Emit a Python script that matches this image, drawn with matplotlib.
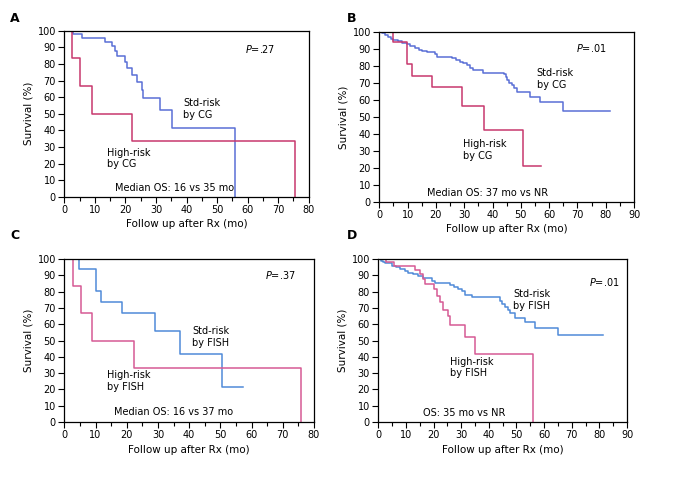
import numpy as np
import matplotlib.pyplot as plt

# Panel A - cytogenetics (CG), small cohort
a_std_t = [0, 2.8, 5.7, 13.4, 15.7, 16.6, 17.1, 19.9, 20.6, 22.3, 23.7, 25.5, 25.9, 31.4, 35.2, 56.0]
a_std_s = [100, 98, 95.8, 93.2, 90.6, 88, 84.5, 81.3, 77.5, 73.3, 69, 64.3, 59.3, 52, 41.6, 0]
a_high_t = [0, 2.6, 5.2, 8.9, 22.2, 75.6]
a_high_s = [100, 83.3, 66.7, 50, 33.3, 0]

# Panel B - cytogenetics (CG), large cohort
b_std_t = [0, 1, 2, 3, 4, 5, 6.5, 8, 9.7, 11, 12.5, 14, 15, 17, 19.7, 20.3, 25.6, 27, 28.5,
           29.7, 31, 32, 33, 36.5, 44, 44.6, 45.2, 46, 46.8, 47.6, 48.5, 53.2, 56.8, 64.8, 81.5]
b_std_s = [100, 99, 98, 97, 96, 95, 94.5, 93.5, 92.6, 91.5, 90.5, 89.5, 88.7, 88, 87.2, 85.3, 84.3,
           83.4, 82.4, 81.4, 80.5, 78.5, 77.3, 76, 75, 73.5, 71.6, 70, 68.7, 67, 64.4, 61.8, 58.9,
           53.4, 53.4]
b_high_t = [0, 4.7, 9.9, 11.4, 18.5, 29.1, 37.0, 50.6, 57.2]
b_high_s = [100, 94, 80.8, 74, 67.3, 56.2, 42.2, 21.2, 21.2]

# Panel C - FISH, small cohort
c_std_t = [0, 4.7, 10.0, 11.6, 18.6, 29.1, 37.2, 50.6, 57.4]
c_std_s = [100, 93.7, 80.3, 73.7, 67, 56, 42, 21.2, 21.2]
c_high_t = [0, 2.7, 5.4, 8.9, 22.2, 75.8]
c_high_s = [100, 83.3, 66.7, 50, 33.3, 0]

# Panel D - FISH, large cohort
d_std_t = [0, 0.8, 1.6, 2.5, 3.6, 5, 6.5, 8, 9.5, 10.9, 12.5, 14.5, 16.3, 19.3, 20.5, 22.9, 26,
           27.5, 29, 30.3, 31.4, 33.8, 44, 44.8, 45.8, 46.8, 47.7, 49.5, 53, 56.7, 65.1, 81.4]
d_std_s = [100, 99, 98.2, 97.8, 97.3, 96, 95, 93.8, 92.5, 91.2, 90.5, 89.5, 88.1, 86.5, 85.5, 85.1,
           84, 83, 81.8, 80.5, 77.9, 76.5, 74.5, 72.5, 70.7, 68.5, 66.7, 63.6, 61.2, 57.9, 53.4, 53.4]
d_high_t = [0, 2.7, 5.7, 13.1, 15.1, 16.3, 16.9, 20.1, 21.1, 22.3, 23.5, 25.3, 25.8, 31.4, 35.1, 56.1]
d_high_s = [100, 98.4, 96, 93.5, 91, 88, 84.7, 81.3, 77.5, 73.5, 69, 64.8, 59.3, 52, 41.7, 0]

plt.rcParams['font.family'] = ['DejaVu Sans']
fig = plt.figure(figsize=(6.77, 4.91), dpi=100)

blue1, pink1 = '#5a6fd6', '#c8386e'
blue2, pink2 = '#4f8ad8', '#d65a94'


def panel(rect, xmax, std, high, cols, texts, letter, letter_xy):
    ax = fig.add_axes(rect)
    ax.step(std[0], std[1], where='post', color=cols[0], lw=1.1)
    ax.step(high[0], high[1], where='post', color=cols[1], lw=1.1)
    ax.set_xlim(0, xmax)
    ax.set_ylim(0, 100)
    ax.set_xticks(np.arange(0, xmax + 1, 10))
    ax.set_xticks(np.arange(5, xmax, 10), minor=True)
    ax.set_yticks(np.arange(0, 101, 10))
    ax.tick_params(labelsize=7, length=4, width=0.8, pad=2)
    ax.tick_params(which='minor', length=3, width=0.8)
    for s in ax.spines.values():
        s.set_linewidth(0.9)
    ax.set_ylabel('Survival (%)', fontsize=7.5, labelpad=3)
    ax.set_xlabel('Follow up after Rx (mo)', fontsize=7.5, labelpad=3)
    for x, y, t, kw in texts:
        ax.text(x, y, t, fontsize=7, va='center', **kw)
    fig.text(letter_xy[0], letter_xy[1], letter, fontsize=9, fontweight='bold',
             ha='left', va='center')
    return ax


panel([0.095, 0.5994, 0.361, 0.338], 80, (a_std_t, a_std_s), (a_high_t, a_high_s),
      (blue1, pink1),
      [(59, 89, r'$P$=.27', {}),
       (39, 53, 'Std-risk\nby CG', {}),
       (14, 23, 'High-risk\nby CG', {}),
       (16.6, 5.4, 'Median OS: 16 vs 35 mo', {})],
      'A', (0.015, 0.963))

panel([0.5603, 0.5886, 0.3762, 0.3468], 90, (b_std_t, b_std_s), (b_high_t, b_high_s),
      (blue1, pink1),
      [(69.4, 90.6, r'$P$=.01', {}),
       (55.6, 72.4, 'Std-risk\nby CG', {}),
       (29.5, 30.4, 'High-risk\nby CG', {}),
       (16.7, 5.5, 'Median OS: 37 mo vs NR', {})],
      'B', (0.512, 0.963))

panel([0.095, 0.1405, 0.3688, 0.332], 80, (c_std_t, c_std_s), (c_high_t, c_high_s),
      (blue2, pink2),
      [(64.3, 90.2, r'$P$=.37', {}),
       (41, 52, 'Std-risk\nby FISH', {}),
       (13.6, 25, 'High-risk\nby FISH', {}),
       (16, 6.3, 'Median OS: 16 vs 37 mo', {})],
      'C', (0.015, 0.52))

panel([0.5588, 0.1405, 0.3674, 0.332], 90, (d_std_t, d_std_s), (d_high_t, d_high_s),
      (blue2, pink2),
      [(76.4, 86.1, r'$P$=.01', {}),
       (48.9, 75, 'Std-risk\nby FISH', {}),
       (25.9, 33.4, 'High-risk\nby FISH', {}),
       (16, 5.7, 'OS: 35 mo vs NR', {})],
      'D', (0.512, 0.52))

fig.savefig('out.png', dpi=100)
